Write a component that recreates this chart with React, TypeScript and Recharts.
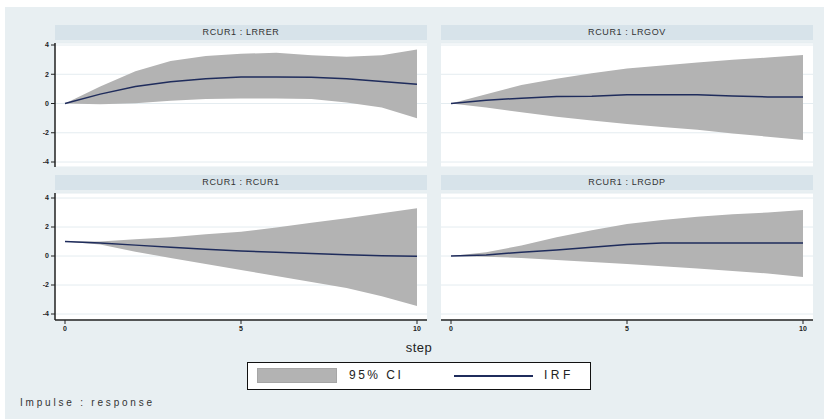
import React from "react";
import {
  ComposedChart,
  Area,
  Line,
  XAxis,
  YAxis,
  CartesianGrid,
} from "recharts";

const steps = [0, 1, 2, 3, 4, 5, 6, 7, 8, 9, 10];
const yTicks = [-4, -2, 0, 2, 4];
const xTicks = [0, 5, 10];

// RCUR1 : LRRER
const rerIrf = [0, 0.64, 1.16, 1.48, 1.7, 1.82, 1.82, 1.8, 1.7, 1.5, 1.32];
const rerLo = [0, -0.05, 0.02, 0.18, 0.3, 0.34, 0.34, 0.3, 0.07, -0.27, -1.0];
const rerHi = [0, 1.16, 2.2, 2.9, 3.25, 3.4, 3.47, 3.3, 3.2, 3.3, 3.7];

// RCUR1 : LRGOV
const govIrf = [0, 0.23, 0.36, 0.48, 0.5, 0.59, 0.6, 0.6, 0.52, 0.45, 0.45];
const govLo = [0, -0.27, -0.6, -0.9, -1.16, -1.4, -1.6, -1.8, -2.05, -2.27, -2.5];
const govHi = [0, 0.64, 1.27, 1.7, 2.07, 2.4, 2.6, 2.8, 3.0, 3.14, 3.32];

// RCUR1 : RCUR1
const curIrf = [1.0, 0.89, 0.75, 0.6, 0.47, 0.35, 0.26, 0.18, 0.09, 0.02, -0.02];
const curLo = [1.0, 0.8, 0.3, -0.14, -0.56, -0.96, -1.38, -1.8, -2.2, -2.78, -3.44];
const curHi = [1.0, 1.0, 1.15, 1.3, 1.5, 1.68, 1.96, 2.3, 2.6, 2.95, 3.3];

// RCUR1 : LRGDP
const gdpIrf = [0, 0.07, 0.26, 0.42, 0.6, 0.8, 0.9, 0.9, 0.9, 0.9, 0.9];
const gdpLo = [0, -0.05, -0.14, -0.28, -0.42, -0.56, -0.7, -0.86, -1.03, -1.2, -1.45];
const gdpHi = [0, 0.26, 0.72, 1.3, 1.78, 2.2, 2.48, 2.7, 2.88, 3.0, 3.18];

const FONT = "'Liberation Sans', Arial, sans-serif";
const BG = "#e8eff2";
const HEADER = "#d7e3ea";
const BAND = "#b3b3b3";
const IRF = "#1f2c5c";

const build = (irf: number[], lo: number[], hi: number[]) =>
  steps.map((s, i) => ({ step: s, irf: irf[i], ci: [lo[i], hi[i]] }));

const tickStyle = { fontSize: 7, fill: "#222", fontFamily: FONT, fontWeight: 700 };

function Panel({
  title,
  irf,
  lo,
  hi,
  left,
  top,
  showY,
  showX,
}: {
  title: string;
  irf: number[];
  lo: number[];
  hi: number[];
  left: number;
  top: number;
  showY: boolean;
  showX: boolean;
}) {
  const yW = showY ? 30 : 0;
  const plotH = showX ? 127 : 124;
  const xH = showX ? 20 : 0;
  const mTop = 6;
  const data = build(irf, lo, hi);
  return (
    <>
      <div
        style={{
          position: "absolute",
          left,
          top: top - 18,
          width: 372,
          height: 15,
          background: HEADER,
          fontFamily: FONT,
          fontSize: 9,
          color: "#333",
          textAlign: "center",
          lineHeight: "15px",
          letterSpacing: 0.6,
        }}
      >
        {title}
      </div>
      <div style={{ position: "absolute", left: left - yW, top: top - mTop }}>
        <ComposedChart
          width={372 + yW}
          height={plotH + xH + mTop}
          data={data}
          margin={{ top: mTop, right: 0, bottom: 0, left: 0 }}
        >
          <CartesianGrid
            horizontal
            vertical={false}
            stroke="#e4ecf0"
            fill="#ffffff"
          />
          <XAxis
            dataKey="step"
            type="number"
            domain={[0, 10]}
            ticks={xTicks}
            hide={!showX}
            height={xH}
            padding={{ left: 10, right: 10 }}
            tick={tickStyle}
            tickSize={4}
            axisLine={{ stroke: "#222", strokeWidth: 1.5 }}
            tickLine={{ stroke: "#222" }}
            interval={0}
          />
          <YAxis
            type="number"
            domain={[-4, 4]}
            ticks={yTicks}
            hide={!showY}
            width={yW}
            padding={showX ? { top: 5, bottom: 6 } : { top: 2, bottom: 5 }}
            tick={tickStyle}
            tickSize={4}
            axisLine={{ stroke: "#222", strokeWidth: 1.5 }}
            tickLine={{ stroke: "#222" }}
            interval={0}
            allowDataOverflow
          />
          <Area
            dataKey="ci"
            type="linear"
            fill={BAND}
            fillOpacity={1}
            stroke="none"
            isAnimationActive={false}
          />
          <Line
            dataKey="irf"
            type="linear"
            stroke={IRF}
            strokeWidth={1.5}
            dot={false}
            isAnimationActive={false}
          />
        </ComposedChart>
      </div>
    </>
  );
}

export default function App() {
  return (
    <div
      style={{
        position: "absolute",
        left: 0,
        top: 0,
        width: 824,
        height: 419,
        background: "#ffffff",
        fontFamily: FONT,
      }}
    >
      <div
        style={{
          position: "absolute",
          left: 5,
          top: 7,
          width: 819,
          height: 412,
          background: BG,
        }}
      />
      <Panel title="RCUR1 : LRRER" irf={rerIrf} lo={rerLo} hi={rerHi} left={55} top={43} showY showX={false} />
      <Panel title="RCUR1 : LRGOV" irf={govIrf} lo={govLo} hi={govHi} left={441} top={43} showY={false} showX={false} />
      <Panel title="RCUR1 : RCUR1" irf={curIrf} lo={curLo} hi={curHi} left={55} top={193} showY showX />
      <Panel title="RCUR1 : LRGDP" irf={gdpIrf} lo={gdpLo} hi={gdpHi} left={441} top={193} showY={false} showX />
      <div
        style={{
          position: "absolute",
          left: 379,
          top: 340,
          width: 80,
          textAlign: "center",
          fontSize: 13,
          color: "#222",
          lineHeight: "15px",
          letterSpacing: 0.5,
        }}
      >
        step
      </div>
      <div
        style={{
          position: "absolute",
          left: 247,
          top: 362,
          width: 342,
          height: 26,
          border: "1px solid #111",
          background: "#ffffff",
        }}
      >
        <div style={{ position: "absolute", left: 9, top: 5, width: 80, height: 15, background: BAND, border: "1px solid #a6a6a6", boxSizing: "border-box" }} />
        <div style={{ position: "absolute", left: 101, top: 5, fontSize: 12, lineHeight: "15px", color: "#222", letterSpacing: 2.5 }}>
          95% CI
        </div>
        <div style={{ position: "absolute", left: 206, top: 12, width: 79, height: 1.5, background: IRF }} />
        <div style={{ position: "absolute", left: 296, top: 5, fontSize: 12, lineHeight: "15px", color: "#222", letterSpacing: 3.5 }}>
          IRF
        </div>
      </div>
      <div
        style={{
          position: "absolute",
          left: 20,
          top: 397,
          fontSize: 10,
          lineHeight: "12px",
          color: "#333",
          letterSpacing: 2.8,
        }}
      >
        Impulse : response
      </div>
    </div>
  );
}
